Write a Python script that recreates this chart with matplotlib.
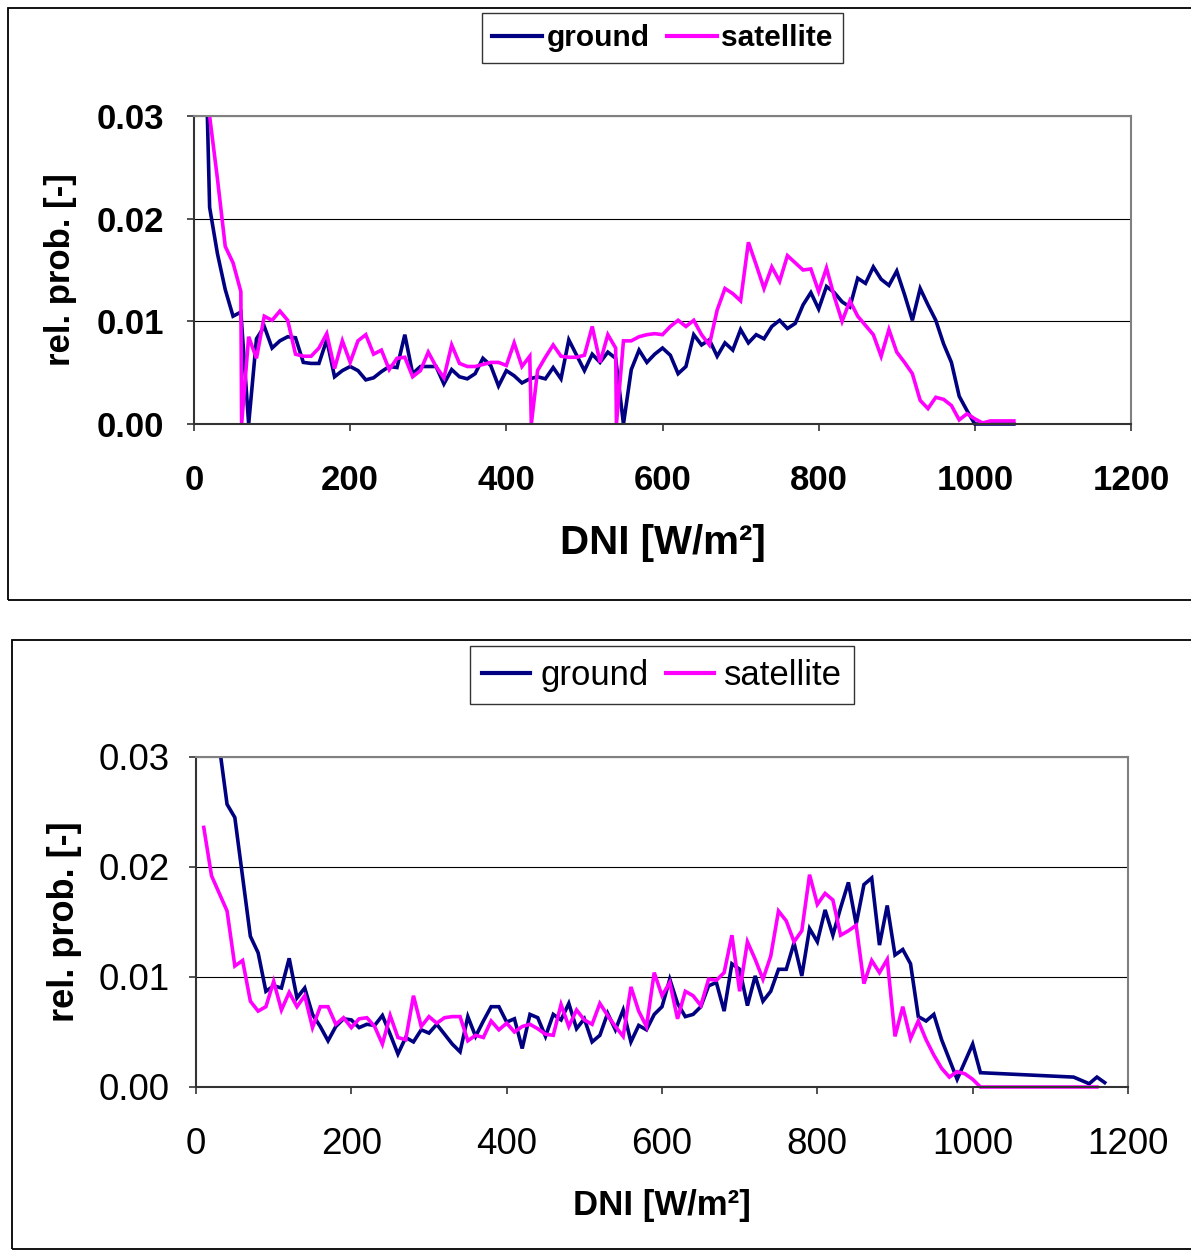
import matplotlib
matplotlib.use("Agg")
import matplotlib.pyplot as plt
from matplotlib.patches import Rectangle
from matplotlib.ticker import FixedLocator, FuncFormatter

plt.rcParams['font.family'] = ['Liberation Sans', 'DejaVu Sans']

# ---------------- data ----------------
top_ground_dni = list(range(10, 1060, 10))
top_ground_prob = [
    0.052, 0.0211, 0.0166, 0.0131, 0.0105, 0.0109, 0.0, 0.0083, 0.0095, 0.0074,
    0.0081, 0.0085, 0.0084, 0.0060, 0.0059, 0.0059, 0.0082, 0.0046, 0.0052, 0.0056,
    0.0052, 0.0043, 0.0045, 0.0051, 0.0056, 0.0055, 0.0087, 0.0049, 0.0056, 0.0056,
    0.0056, 0.0039, 0.0053, 0.0046, 0.0044, 0.0049, 0.0064, 0.0057, 0.0037, 0.0052,
    0.0047, 0.0040, 0.0044, 0.0046, 0.0044, 0.0055, 0.0044, 0.0082, 0.0067, 0.0052,
    0.0068, 0.0060, 0.0070, 0.0064, 0.0, 0.0053, 0.0072, 0.0060, 0.0068, 0.0074,
    0.0067, 0.0049, 0.0056, 0.0087, 0.0077, 0.0082, 0.0066, 0.0079, 0.0072, 0.0092,
    0.0079, 0.0087, 0.0083, 0.0095, 0.0101, 0.0093, 0.0098, 0.0116, 0.0128, 0.0112,
    0.0134, 0.0128, 0.0119, 0.0114, 0.0142, 0.0137, 0.0153, 0.0141, 0.0135, 0.0149,
    0.0126, 0.0101, 0.0132, 0.0116, 0.0101, 0.0078, 0.0060, 0.0027, 0.0013, 0.0,
    0.0, 0.0, 0.0, 0.0, 0.0]

top_sat_dni = ([20, 30, 40, 50, 60, 61] + list(range(70, 431, 10)) + [432]
               + list(range(440, 541, 10)) + [541] + list(range(550, 1060, 10)))
top_sat_prob = [
    0.0300, 0.0239, 0.0173, 0.0157, 0.0129, 0.0,
    0.0085, 0.0064, 0.0105, 0.0101, 0.0110, 0.0101, 0.0068, 0.0066, 0.0066, 0.0074,
    0.0088, 0.0054, 0.0081, 0.0060, 0.0081, 0.0087, 0.0068, 0.0072, 0.0053, 0.0064,
    0.0065, 0.0046, 0.0052, 0.0070, 0.0056, 0.0045, 0.0077, 0.0059, 0.0056, 0.0056,
    0.0058, 0.0060, 0.0060, 0.0057, 0.0079, 0.0056, 0.0066,
    0.0,
    0.0052, 0.0065, 0.0077, 0.0066, 0.0065, 0.0065, 0.0067, 0.0095, 0.0060, 0.0087,
    0.0074,
    0.0,
    0.0081, 0.0081, 0.0085, 0.0087, 0.0088, 0.0087, 0.0095, 0.0101, 0.0095, 0.0101,
    0.0087, 0.0077, 0.0111, 0.0132, 0.0127, 0.0120, 0.0177, 0.0155, 0.0132, 0.0153,
    0.0139, 0.0164, 0.0157, 0.0150, 0.0151, 0.0129, 0.0152, 0.0124, 0.0100, 0.0120,
    0.0105, 0.0096, 0.0087, 0.0066, 0.0092, 0.0070, 0.0060, 0.0049, 0.0023, 0.0015,
    0.0026, 0.0024, 0.0018, 0.0004, 0.0010, 0.0005, 0.0001, 0.0003, 0.0003, 0.0003,
    0.0003]

bot_ground_dni = list(range(10, 1020, 10)) + [1130, 1150, 1160, 1170]
bot_ground_prob = [
    0.060, 0.045, 0.031, 0.0257, 0.0245, 0.0191, 0.0137, 0.0122, 0.0087, 0.0092,
    0.0090, 0.0117, 0.0081, 0.0090, 0.0066, 0.0055, 0.0042, 0.0055, 0.0062, 0.0061,
    0.0054, 0.0057, 0.0056, 0.0065, 0.0048, 0.0030, 0.0045, 0.0041, 0.0052, 0.0049,
    0.0057, 0.0048, 0.0039, 0.0032, 0.0064, 0.0046, 0.0060, 0.0073, 0.0073, 0.0059,
    0.0062, 0.0035, 0.0066, 0.0063, 0.0046, 0.0066, 0.0061, 0.0076, 0.0053, 0.0062,
    0.0041, 0.0047, 0.0067, 0.0052, 0.0070, 0.0041, 0.0056, 0.0052, 0.0066, 0.0073,
    0.0098, 0.0076, 0.0064, 0.0066, 0.0073, 0.0092, 0.0095, 0.0069, 0.0112, 0.0107,
    0.0074, 0.0101, 0.0078, 0.0087, 0.0107, 0.0107, 0.0131, 0.0101, 0.0144, 0.0132,
    0.0161, 0.0138, 0.0163, 0.0186, 0.0148, 0.0184, 0.0190, 0.0129, 0.0165, 0.0120,
    0.0125, 0.0112, 0.0064, 0.0060, 0.0066, 0.0043, 0.0025, 0.0007, 0.0023, 0.0039,
    0.0013,
    0.0009, 0.0003, 0.0009, 0.0004]

bot_sat_dni = list(range(10, 1020, 10)) + [1160]
bot_sat_prob = [
    0.0236, 0.0192, 0.0176, 0.0160, 0.0110, 0.0115, 0.0078, 0.0069, 0.0073, 0.0096,
    0.0070, 0.0086, 0.0073, 0.0083, 0.0054, 0.0073, 0.0073, 0.0057, 0.0063, 0.0054,
    0.0062, 0.0063, 0.0055, 0.0039, 0.0065, 0.0045, 0.0043, 0.0083, 0.0055, 0.0064,
    0.0058, 0.0063, 0.0064, 0.0064, 0.0042, 0.0047, 0.0045, 0.0060, 0.0052, 0.0058,
    0.0050, 0.0055, 0.0057, 0.0053, 0.0048, 0.0047, 0.0075, 0.0055, 0.0070, 0.0061,
    0.0057, 0.0076, 0.0065, 0.0055, 0.0046, 0.0091, 0.0069, 0.0055, 0.0104, 0.0083,
    0.0095, 0.0062, 0.0087, 0.0083, 0.0074, 0.0098, 0.0097, 0.0104, 0.0138, 0.0087,
    0.0132, 0.0116, 0.0098, 0.0119, 0.0160, 0.0151, 0.0132, 0.0142, 0.0193, 0.0166,
    0.0176, 0.0170, 0.0138, 0.0142, 0.0147, 0.0094, 0.0115, 0.0104, 0.0116, 0.0046,
    0.0073, 0.0044, 0.0060, 0.0043, 0.0029, 0.0017, 0.0009, 0.0014, 0.0012, 0.0007,
    0.0,
    0.0]

x_ticks = [0, 200, 400, 600, 800, 1000, 1200]
y_ticks = [0.00, 0.01, 0.02, 0.03]
series_names = ["ground", "satellite"]
colors = ["#000080", "#FF00FF"]

# ---------------- figure ----------------
W, H = 1191, 1251
fig = plt.figure(figsize=(W / 100, H / 100), dpi=100)

def fx(px):
    return px / W

def fy(py):
    return 1 - py / H

# panel frames
fig.patches.append(Rectangle((fx(8), fy(600)), 1.2, fy(8) - fy(600),
                             transform=fig.transFigure, fill=False,
                             edgecolor="black", lw=1.3))
fig.patches.append(Rectangle((fx(12), fy(1249)), 1.2, fy(640) - fy(1249),
                             transform=fig.transFigure, fill=False,
                             edgecolor="black", lw=1.3))


def make_panel(rect, gx, gy, sx, sy, bold, tick_fs, xl_fs, yl_fs, leg_fs,
               xlab_y, ylab_x, leg_y, ypad, xpad, hlen, htp, colsp):
    ax = fig.add_axes(rect)
    weight = "bold" if bold else "normal"
    clip = Rectangle((0, -0.012), 1, 1.012, transform=ax.transAxes,
                     visible=False)
    ax.add_patch(clip)
    for xs, ys, c, n in [(gx, gy, colors[0], series_names[0]),
                         (sx, sy, colors[1], series_names[1])]:
        ln, = ax.plot(xs, ys, color=c, lw=2.6, label=n,
                      solid_joinstyle="miter")
        ln.set_clip_path(clip)
    ax.set_xlim(0, 1200)
    ax.set_ylim(0, 0.03)
    ax.xaxis.set_major_locator(FixedLocator(x_ticks))
    ax.yaxis.set_major_locator(FixedLocator(y_ticks))
    ax.yaxis.set_major_formatter(FuncFormatter(lambda v, p: f"{v:.2f}"))
    ax.xaxis.set_major_formatter(FuncFormatter(lambda v, p: f"{int(round(v))}"))
    ax.grid(axis="y", color="black", lw=0.8)
    ax.set_axisbelow(True)
    for s in ["top", "right"]:
        ax.spines[s].set_color("#808080")
        ax.spines[s].set_linewidth(1.5)
    for s in ["left", "bottom"]:
        ax.spines[s].set_color("#333333")
        ax.spines[s].set_linewidth(1.5)
    ax.tick_params(axis="both", direction="out", length=5, width=1.2,
                   color="#333333", labelsize=tick_fs)
    ax.tick_params(axis="y", pad=ypad)
    ax.tick_params(axis="x", pad=xpad)
    for lab in ax.get_xticklabels() + ax.get_yticklabels():
        lab.set_fontweight(weight)
    ax.set_xlabel("DNI [W/m²]", fontsize=xl_fs, fontweight="bold", va="center")
    ax.xaxis.set_label_coords(0.5, xlab_y)
    ax.set_ylabel("rel. prob. [-]", fontsize=yl_fs, fontweight="bold",
                  va="center")
    ax.yaxis.set_label_coords(ylab_x, 0.5)
    leg = ax.legend(loc="center", bbox_to_anchor=(0.5, leg_y), ncol=2,
                    prop={"size": leg_fs, "weight": weight},
                    frameon=True, fancybox=False, shadow=False,
                    edgecolor="black", handlelength=hlen, handletextpad=htp,
                    columnspacing=colsp, borderpad=0.36, borderaxespad=0)
    leg.get_frame().set_linewidth(1.0)
    for lh in leg.get_lines():
        lh.set_linewidth(3)
    return ax


# top panel: plot area x 194..1131 px, y 116..424 px
make_panel([fx(194), fy(424), fx(1131) - fx(194), fy(116) - fy(424)],
           top_ground_dni, top_ground_prob, top_sat_dni, top_sat_prob,
           bold=True, tick_fs=25, xl_fs=29, yl_fs=25, leg_fs=21.5,
           xlab_y=-0.386, ylab_x=-0.143, leg_y=1.253, ypad=16.5, xpad=24,
           hlen=1.67, htp=0.15, colsp=0.57)

# bottom panel: plot area x 196..1128 px, y 757..1087 px
make_panel([fx(196), fy(1087), fx(1128) - fx(196), fy(757) - fy(1087)],
           bot_ground_dni, bot_ground_prob, bot_sat_dni, bot_sat_prob,
           bold=False, tick_fs=26.5, xl_fs=25, yl_fs=26, leg_fs=25,
           xlab_y=-0.358, ylab_x=-0.1406, leg_y=1.247, ypad=14, xpad=24,
           hlen=1.38, htp=0.29, colsp=0.49)

fig.savefig("out.png", dpi=100)
